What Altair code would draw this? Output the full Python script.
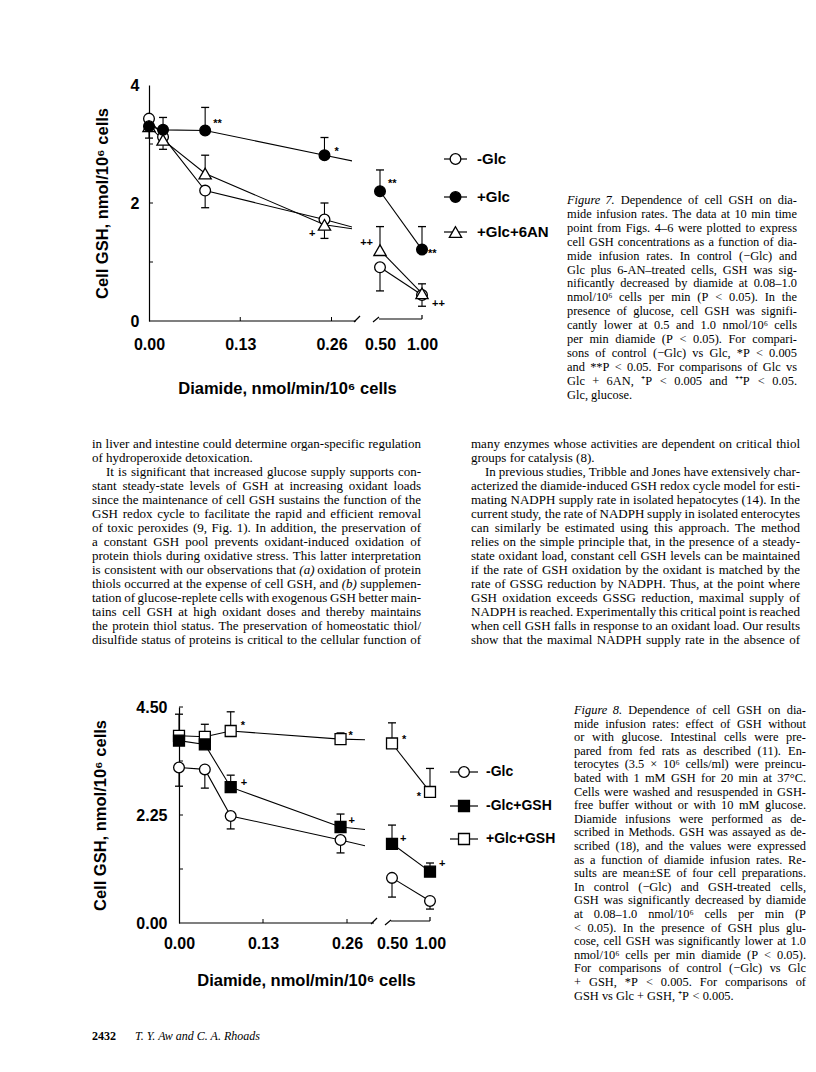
import altair as alt
import pandas as pd

# ---------------------------------------------------------------- data
# Figure 7: cell GSH (nmol/10^6 cells) vs diamide infusion rate
X7 = [0.0, 0.02, 0.08, 0.25, 0.5, 1.0]
F7_SERIES = ["-Glc", "+Glc", "+Glc+6AN"]
F7_MINUS_GLC = [3.43, 3.12, 2.21, 1.72, 0.91, 0.44]
F7_MINUS_GLC_ERR = [3.10, None, 1.92, 2.00, 0.51, 0.25]
F7_PLUS_GLC = [3.30, 3.24, 3.23, 2.81, 2.20, 1.21]
F7_PLUS_GLC_ERR = [None, 3.45, 3.62, 3.11, 2.56, 1.60]
F7_GLC_6AN = [3.30, 3.07, 2.50, 1.63, 1.20, 0.47]
F7_GLC_6AN_ERR = [None, 2.91, 2.81, 1.40, 1.60, 0.63]
F7_Y_TICKS = [0, 2, 4]
F7_Y_MINOR = [1, 2, 3]
F7_ANNOT_TEXT = ["**", "*", "**", "**", "+", "++", "++"]
F7_ANNOT_SERIES = ["+Glc", "+Glc", "+Glc", "+Glc", "+Glc+6AN", "+Glc+6AN", "+Glc+6AN"]
F7_ANNOT_X = [0.08, 0.25, 0.5, 1.0, 0.25, 0.5, 1.0]

# Figure 8
X8 = [0.0, 0.04, 0.08, 0.25, 0.5, 1.0]
F8_SERIES = ["-Glc", "-Glc+GSH", "+Glc+GSH"]
F8_MINUS_GLC = [3.24, 3.20, 2.23, 1.73, 0.94, 0.46]
F8_MINUS_GLC_ERR = [2.85, 2.81, 1.96, 1.46, 0.54, 0.29]
F8_MINUS_GLC_GSH = [3.80, 3.72, 2.83, 2.00, 1.65, 1.07]
F8_MINUS_GLC_GSH_ERR = [None, None, 3.08, 2.27, 2.04, 1.25]
F8_PLUS_GLC_GSH = [3.90, 3.88, 4.00, 3.83, 3.74, 2.73]
F8_PLUS_GLC_GSH_ERR = [4.35, 4.14, 4.40, 3.96, 4.17, 3.22]
F8_Y_TICKS = [0.0, 2.25, 4.5]
F8_Y_MINOR = [1.125, 2.25, 3.375, 4.5]
F8_ANNOT_TEXT = ["*", "*", "*", "*", "+", "+", "+", "+"]
F8_ANNOT_SERIES = ["+Glc+GSH"] * 4 + ["-Glc+GSH"] * 4
F8_ANNOT_X = [0.08, 0.25, 0.5, 1.0, 0.08, 0.25, 0.5, 1.0]

X_TICKS_LEFT = [0.0, 0.13, 0.26]
X_TICKS_RIGHT = [0.5, 1.0]
Y_TITLE = "Cell GSH, nmol/10\u2076 cells"
X_TITLE = "Diamide, nmol/min/10\u2076 cells"

CAPTION7_LABEL = "Figure 7."
CAPTION7 = [
    "Dependence of cell GSH on dia-",
    "mide infusion rates. The data at 10 min time",
    "point from Figs. 4\u20136 were plotted to express",
    "cell GSH concentrations as a function of dia-",
    "mide infusion rates. In control (\u2212Glc) and",
    "Glc plus 6-AN\u2013treated cells, GSH was sig-",
    "nificantly decreased by diamide at 0.08\u20131.0",
    "nmol/10\u2076 cells per min (P < 0.05). In the",
    "presence of glucose, cell GSH was signifi-",
    "cantly lower at 0.5 and 1.0 nmol/10\u2076 cells",
    "per min diamide (P < 0.05). For compari-",
    "sons of control (\u2212Glc) vs Glc, *P < 0.005",
    "and **P < 0.05. For comparisons of Glc vs",
    "Glc + 6AN, \u207aP < 0.005 and \u207a\u207aP < 0.05.",
    "Glc, glucose.",
]
CAPTION8_LABEL = "Figure 8."
CAPTION8 = [
    "Dependence of cell GSH on dia-",
    "mide infusion rates: effect of GSH without",
    "or with glucose. Intestinal cells were pre-",
    "pared from fed rats as described (11). En-",
    "terocytes (3.5 \u00d7 10\u2076 cells/ml) were preincu-",
    "bated with 1 mM GSH for 20 min at 37\u00b0C.",
    "Cells were washed and resuspended in GSH-",
    "free buffer without or with 10 mM glucose.",
    "Diamide infusions were performed as de-",
    "scribed in Methods. GSH was assayed as de-",
    "scribed (18), and the values were expressed",
    "as a function of diamide infusion rates. Re-",
    "sults are mean\u00b1SE of four cell preparations.",
    "In control (\u2212Glc) and GSH-treated cells,",
    "GSH was significantly decreased by diamide",
    "at 0.08\u20131.0 nmol/10\u2076 cells per min (P",
    "< 0.05). In the presence of GSH plus glu-",
    "cose, cell GSH was significantly lower at 1.0",
    "nmol/10\u2076 cells per min diamide (P < 0.05).",
    "For comparisons of control (\u2212Glc) vs Glc",
    "+ GSH, *P < 0.005. For comparisons of",
    "GSH vs Glc + GSH, \u207aP < 0.005.",
]
BODY_LEFT = [
    "in liver and intestine could determine organ-specific regulation",
    "of hydroperoxide detoxication.",
    "It is significant that increased glucose supply supports con-",
    "stant steady-state levels of GSH at increasing oxidant loads",
    "since the maintenance of cell GSH sustains the function of the",
    "GSH redox cycle to facilitate the rapid and efficient removal",
    "of toxic peroxides (9, Fig. 1). In addition, the preservation of",
    "a constant GSH pool prevents oxidant-induced oxidation of",
    "protein thiols during oxidative stress. This latter interpretation",
    "is consistent with our observations that (a) oxidation of protein",
    "thiols occurred at the expense of cell GSH, and (b) supplemen-",
    "tation of glucose-replete cells with exogenous GSH better main-",
    "tains cell GSH at high oxidant doses and thereby maintains",
    "the protein thiol status. The preservation of homeostatic thiol/",
    "disulfide status of proteins is critical to the cellular function of",
]
BODY_RIGHT = [
    "many enzymes whose activities are dependent on critical thiol",
    "groups for catalysis (8).",
    "In previous studies, Tribble and Jones have extensively char-",
    "acterized the diamide-induced GSH redox cycle model for esti-",
    "mating NADPH supply rate in isolated hepatocytes (14). In the",
    "current study, the rate of NADPH supply in isolated enterocytes",
    "can similarly be estimated using this approach. The method",
    "relies on the simple principle that, in the presence of a steady-",
    "state oxidant load, constant cell GSH levels can be maintained",
    "if the rate of GSH oxidation by the oxidant is matched by the",
    "rate of GSSG reduction by NADPH. Thus, at the point where",
    "GSH oxidation exceeds GSSG reduction, maximal supply of",
    "NADPH is reached. Experimentally this critical point is reached",
    "when cell GSH falls in response to an oxidant load. Our results",
    "show that the maximal NADPH supply rate in the absence of",
]
BODY_PARA_STARTS = [2]
BODY_PARA_ENDS = [1]
BODY_LEFT_ITALIC = {(9, 6), (10, 9)}   # "(a)" and "(b)"
FOOTER_PAGE = "2432"
FOOTER_AUTHORS = "T. Y. Aw and C. A. Rhoads"

# ---------------------------------------------------------------- layout / style
SANS = "Liberation Sans"
SERIF = "Liberation Serif"
STYLE7 = {"-Glc": ("circle", "white", 115), "+Glc": ("circle", "black", 115),
          "+Glc+6AN": ("triangle-up", "white", 150)}
ORDER7 = ["-Glc", "+Glc+6AN", "+Glc"]
STYLE8 = {"-Glc": ("circle", "white", 115), "-Glc+GSH": ("square", "black", 120),
          "+Glc+GSH": ("square", "white", 120)}
ORDER8 = ["-Glc", "+Glc+GSH", "-Glc+GSH"]

# annotation offsets (dx, dy, align) relative to the annotated marker
F7_ANNOT_OFF = [(8, -9, "left"), (10, -6, "left"), (8, -10, "left"), (6, 1, "left"),
                (-9, 9, "right"), (-7, -7, "right"), (10, 11, "left")]
F8_ANNOT_OFF = [(10, -8, "left"), (8, -6, "left"), (10, -6, "left"), (-9, 2, "right"),
                (10, -4, "left"), (8, -6, "left"), (8, -5, "left"), (9, -8, "left")]

LW = 1.1
CAP_FS = 12.4
BODY_FS = 13
BODY_LH = 14.0
BODY_W = 329

# approximate Times advance widths (1/1000 em) used to justify the text lines
_TW = {" ": 250, "a": 444, "b": 500, "c": 444, "d": 500, "e": 444, "f": 333, "g": 500,
       "h": 500, "i": 278, "j": 278, "k": 500, "l": 278, "m": 778, "n": 500, "o": 500,
       "p": 500, "q": 500, "r": 333, "s": 389, "t": 278, "u": 500, "v": 500, "w": 722,
       "x": 500, "y": 500, "z": 444, "A": 722, "B": 667, "C": 667, "D": 722, "E": 611,
       "F": 556, "G": 722, "H": 722, "I": 333, "J": 389, "K": 722, "L": 611, "M": 889,
       "N": 722, "O": 722, "P": 556, "Q": 722, "R": 667, "S": 556, "T": 611, "U": 722,
       "V": 722, "W": 944, "X": 722, "Y": 722, "Z": 611, ".": 250, ",": 250, "(": 333,
       ")": 333, "-": 333, "/": 278, ":": 278, ";": 278, "*": 500, "+": 564, "<": 564,
       "\u00b0": 400, "\u00d7": 564, "\u00b1": 564, "\u2013": 500, "\u2212": 564,
       "\u2076": 320, "\u207a": 360}


def text_width(s, fs):
    return sum(_TW.get(c, 500) for c in s) * fs / 1000.0


def justified(lines, x0, y0, lh, width, fs, ragged=(), indent_lines=(), indent=0,
              italic=()):
    rows = []
    for i, line in enumerate(lines):
        y = y0 + i * lh
        xs = x0 + (indent if i in indent_lines else 0)
        w = width - (indent if i in indent_lines else 0)
        words = line.split(" ")
        if i in ragged or len(words) == 1:
            acc = xs
            for k, wd in enumerate(words):
                rows.append({"t": wd, "x": acc, "y": y,
                             "kind": "italic" if (i, k) in italic else "left"})
                acc += text_width(wd + " ", fs)
            continue
        widths = [text_width(wd, fs) for wd in words]
        gap = (w - sum(widths)) / (len(words) - 1)
        acc = xs
        for k, wd in enumerate(words):
            if k == len(words) - 1:
                rows.append({"t": wd, "x": xs + w, "y": y, "kind": "right"})
            else:
                rows.append({"t": wd, "x": acc, "y": y,
                             "kind": "italic" if (i, k) in italic else "left"})
            acc += widths[k] + gap
    return pd.DataFrame(rows)


def long_df(xs, series, ys_list, errs_list):
    rows = []
    for s, ys, es in zip(series, ys_list, errs_list):
        for x, y, e in zip(xs, ys, es):
            rows.append({"series": s, "x": x, "y": y, "err": e})
    return pd.DataFrame(rows)


def one():
    return pd.DataFrame({"v": [0]})


def spacer(w, h):
    return alt.Chart(one()).mark_point(opacity=0, size=1).encode(
        x=alt.value(w / 2), y=alt.value(h / 2)).properties(width=w, height=h)


def seg(x1, y1, x2, y2):
    return alt.Chart(one()).mark_rule(color="black", strokeWidth=1.2).encode(
        x=alt.value(x1), y=alt.value(y1), x2=alt.value(x2), y2=alt.value(y2))


def data_panel(df, styles, order, part, xdom, xrng, ydom, yrng, width, height,
               x_axis, y_axis, annots, y_minor, x_ticks_inward, decor):
    xs = alt.Scale(domain=xdom, range=xrng, nice=False, zero=False)
    ys = alt.Scale(domain=ydom, range=yrng, nice=False, zero=False)

    def X(f):
        return alt.X(f"{f}:Q", scale=xs, axis=x_axis)

    def Y(f):
        return alt.Y(f"{f}:Q", scale=ys, axis=y_axis)

    if part == "left":
        pts = df[df.x <= xdom[1]]
        line_df = df
    else:
        pts = df[df.x >= xdom[0]]
        line_df = pts
    layers = [
        alt.Chart(line_df).mark_line(color="black", strokeWidth=LW, clip=True).encode(
            x=X("x"), y=Y("y"), detail="series:N")
    ]
    eb = pts.dropna(subset=["err"])
    layers.append(alt.Chart(eb).mark_rule(color="black", strokeWidth=LW).encode(
        x=X("x"), y=Y("y"), y2="err:Q"))
    layers.append(alt.Chart(eb).mark_tick(orient="horizontal", color="black", size=8,
                                          thickness=1.3, opacity=1).encode(
        x=X("x"), y=Y("err")))
    for s in order:
        shape, fill, size = styles[s]
        layers.append(alt.Chart(pts[pts.series == s]).mark_point(
            shape=shape, filled=True, fill=fill, stroke="black", strokeWidth=1.3,
            size=size, opacity=1).encode(x=X("x"), y=Y("y")))
    if y_minor:
        layers.append(alt.Chart(pd.DataFrame({"t": y_minor})).mark_rule(
            color="black", strokeWidth=1).encode(
            y=Y("t"), x=alt.value(0), x2=alt.value(4)))
    if x_ticks_inward:
        ybase = yrng[0]
        layers.append(alt.Chart(pd.DataFrame({"t": x_ticks_inward})).mark_rule(
            color="black", strokeWidth=1).encode(
            x=X("t"), y=alt.value(ybase), y2=alt.value(ybase - 4)))
    for (txt, s, xv), (dx, dy, al) in annots:
        yv = float(df[(df.series == s) & (df.x == xv)].y.iloc[0])
        adj = 3 if "*" in txt else 0
        layers.append(alt.Chart(pd.DataFrame({"x": [xv], "y": [yv], "t": [txt]})).mark_text(
            dx=dx, dy=dy + adj, align=al, baseline="middle", font=SANS, fontSize=11,
            fontWeight="bold", color="black").encode(x=X("x"), y=Y("y"), text="t:N"))
    layers += decor
    return alt.layer(*layers).properties(width=width, height=height)


def x_axis(values, title=None, tx=0, ty=0, pad=14):
    if title:
        kw = dict(title=title, titleX=tx, titleY=ty, titleAlign="center",
                  titleBaseline="middle", titleAngle=0, titleFont=SANS,
                  titleFontSize=16.5, titleFontWeight="bold", titleColor="black")
    else:
        kw = dict(title=None)
    return alt.Axis(values=values, format=".2f", domain=False, ticks=False, tickSize=0,
                    grid=False, labelFont=SANS, labelFontSize=16, labelFontWeight="bold",
                    labelColor="black", labelPadding=pad, labelFlush=False,
                    labelOverlap=False, labelBound=False, **kw)


def y_axis(values, fmt, title, tx, ty, pad):
    return alt.Axis(values=values, format=fmt, domain=True, domainColor="black",
                    domainWidth=1.2, ticks=False, tickSize=0, grid=False,
                    labelFont=SANS, labelFontSize=16, labelFontWeight="bold",
                    labelColor="black", labelPadding=pad, labelOverlap=False,
                    title=title, titleX=tx, titleY=ty, titleAngle=270,
                    titleAlign="center", titleBaseline="middle", titleFont=SANS,
                    titleFontSize=16.5, titleFontWeight="bold", titleColor="black")


def text_chart(df, **kw):
    base = dict(align="left", baseline="middle", color="black")
    base.update(kw)
    return alt.Chart(df).mark_text(**base).encode(
        x=alt.X("x:Q", scale=None, axis=None), y=alt.Y("y:Q", scale=None, axis=None),
        text="t:N")


def serif_layers(words, fs):
    out = []
    for kind, extra in (("left", {}), ("italic", {"fontStyle": "italic"}),
                        ("right", {"align": "right"})):
        sub = words[words.kind == kind]
        if len(sub):
            out.append(text_chart(sub, font=SERIF, fontSize=fs, **extra))
    return out


def legend_caption_panel(series, styles, rows_y, lx0, lx1, mx, tx, leg_fs,
                         cap_label, cap_lines, cx, cy, dy, cap_w, width, height):
    leg = pd.DataFrame({"y": rows_y, "t": series})
    layers = [alt.Chart(leg).mark_rule(color="black", strokeWidth=1.2).encode(
        x=alt.value(lx0), x2=alt.value(lx1), y=alt.Y("y:Q", scale=None, axis=None))]
    for s, yy in zip(series, rows_y):
        shape, fill, size = styles[s]
        layers.append(alt.Chart(pd.DataFrame({"x": [mx], "y": [yy]})).mark_point(
            shape=shape, filled=True, fill=fill, stroke="black", strokeWidth=1.3,
            size=size, opacity=1).encode(
            x=alt.X("x:Q", scale=None, axis=None), y=alt.Y("y:Q", scale=None, axis=None)))
    leg["x"] = tx
    layers.append(text_chart(leg, font=SANS, fontSize=leg_fs, fontWeight="bold"))
    lines = [cap_label + " " + cap_lines[0]] + cap_lines[1:]
    words = justified(lines, cx, cy, dy, cap_w, CAP_FS, ragged=(len(lines) - 1,),
                      italic={(0, 0), (0, 1)})
    layers += serif_layers(words, CAP_FS)
    return alt.layer(*layers).properties(width=width, height=height)


# ---------------------------------------------------------------- Figure 7 (row A, page y 8-430)
df7 = long_df(X7, F7_SERIES, [F7_MINUS_GLC, F7_PLUS_GLC, F7_GLC_6AN],
              [F7_MINUS_GLC_ERR, F7_PLUS_GLC_ERR, F7_GLC_6AN_ERR])
ann7 = list(zip(zip(F7_ANNOT_TEXT, F7_ANNOT_SERIES, F7_ANNOT_X), F7_ANNOT_OFF))
HA = 422
H7 = 313
left7 = data_panel(
    df7, STYLE7, ORDER7, "left", [0, 0.26], [0, 182.5], [0, 4], [H7, 77], 203, H7,
    x_axis(X_TICKS_LEFT, X_TITLE, 138, 67, 15),
    y_axis(F7_Y_TICKS, "d", Y_TITLE, -47, (H7 + 77) / 2, 10),
    [a for a in ann7 if a[0][2] <= 0.26], F7_Y_MINOR, [0.13, 0.26],
    [seg(0, H7, 207, H7), seg(205, H7 + 1, 211, H7 - 5)])
right7 = data_panel(
    df7, STYLE7, ORDER7, "right", [0.5, 1.0], [8, 50], [0, 4], [H7, 77], 58, H7,
    x_axis(X_TICKS_RIGHT, None, pad=15), None,
    [a for a in ann7 if a[0][2] >= 0.5], None, None,
    [seg(1, H7 + 1, 7, H7 - 4), seg(7, H7 - 2, 50, H7 - 2), seg(50, H7 - 2, 50, H7 - 6)])
leg7 = legend_caption_panel(F7_SERIES, STYLE7, [151, 189, 224], 14, 37, 25.5, 47, 15,
                            CAPTION7_LABEL, CAPTION7, 137, 192, 13.9, 230, 378, H7)
rowA = alt.hconcat(spacer(141, HA), left7, spacer(20, H7), right7, leg7,
                   spacing=0, bounds="flush")

# ---------------------------------------------------------------- body text (row B, page y 430-660)
HB = 230
body_words = pd.concat([
    justified(BODY_LEFT, 84, 14, BODY_LH, BODY_W, BODY_FS, ragged=BODY_PARA_ENDS,
              indent_lines=BODY_PARA_STARTS, indent=14, italic=BODY_LEFT_ITALIC),
    justified(BODY_RIGHT, 463, 14, BODY_LH, BODY_W, BODY_FS, ragged=BODY_PARA_ENDS,
              indent_lines=BODY_PARA_STARTS, indent=14),
], ignore_index=True)
rowB = alt.layer(spacer(800, HB), *serif_layers(body_words, BODY_FS)).properties(
    width=800, height=HB)

# ---------------------------------------------------------------- Figure 8 (row C, page y 660-1064)
df8 = long_df(X8, F8_SERIES, [F8_MINUS_GLC, F8_MINUS_GLC_GSH, F8_PLUS_GLC_GSH],
              [F8_MINUS_GLC_ERR, F8_MINUS_GLC_GSH_ERR, F8_PLUS_GLC_GSH_ERR])
ann8 = list(zip(zip(F8_ANNOT_TEXT, F8_ANNOT_SERIES, F8_ANNOT_X), F8_ANNOT_OFF))
HC = 404
H8 = 263
left8 = data_panel(
    df8, STYLE8, ORDER8, "left", [0, 0.26], [0, 168], [0, 4.5], [H8, 47], 186, H8,
    x_axis(X_TICKS_LEFT, X_TITLE, 127, 57, 12),
    y_axis(F8_Y_TICKS, ".2f", Y_TITLE, -79, (H8 + 47) / 2, 12),
    [a for a in ann8 if a[0][2] <= 0.26], F8_Y_MINOR, [0.13, 0.26],
    [seg(0, H8, 195, H8), seg(192, H8 + 1, 198, H8 - 5)])
right8 = data_panel(
    df8, STYLE8, ORDER8, "right", [0.5, 1.0], [8, 46], [0, 4.5], [H8, 47], 62, H8,
    x_axis(X_TICKS_RIGHT, None, pad=12), None,
    [a for a in ann8 if a[0][2] >= 0.5], None, None,
    [seg(1, H8 + 2, 7, H8 - 3), seg(7, H8 - 2, 46, H8 - 2), seg(46, H8 - 2, 46, H8 - 6)])
leg8 = legend_caption_panel(F8_SERIES, STYLE8, [112, 146, 179], 4, 32, 18, 40, 14,
                            CAPTION8_LABEL, CAPTION8, 128, 50, 13.6, 232, 362, H8)
foot = alt.layer(
    spacer(171, HC),
    text_chart(pd.DataFrame({"t": [FOOTER_PAGE], "x": [84], "y": [376]}),
               font=SERIF, fontSize=12, fontWeight="bold"),
    text_chart(pd.DataFrame({"t": [FOOTER_AUTHORS], "x": [127], "y": [376]}),
               font=SERIF, fontSize=12, fontStyle="italic"),
).properties(width=171, height=HC)
rowC = alt.hconcat(foot, left8, spacer(19, H8), right8, leg8,
                   spacing=0, bounds="flush")

chart = alt.vconcat(rowA, rowB, rowC, spacing=0).properties(
    padding=0).configure_view(stroke=None)

chart.save("out.html", embed_options={"renderer": "svg", "actions": False})
